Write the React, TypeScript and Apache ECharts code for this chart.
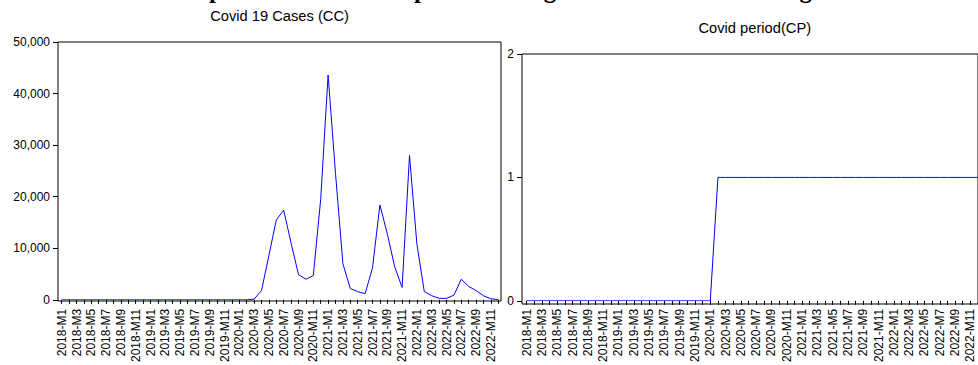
import React, { useEffect, useRef } from "react";
import * as echarts from "echarts";

const years = [2018, 2019, 2020, 2021, 2022];
const monthNums = [1, 2, 3, 4, 5, 6, 7, 8, 9, 10, 11, 12];
const categories: string[] = [];
years.forEach((y) => monthNums.forEach((m) => categories.push(`${y}-M${m}`)));

const covidCases = [
  0, 0, 0, 0, 0, 0, 0, 0, 0, 0, 0, 0,
  0, 0, 0, 0, 0, 0, 0, 0, 0, 0, 0, 0,
  0, 0, 140, 1800, 8600, 15500, 17400, 11000, 4900, 4000, 4700, 19500,
  43600, 24500, 7000, 2200, 1600, 1200, 6200, 18400, 12800, 6400, 2400, 28000,
  10800, 1600, 800, 300, 300, 900, 4000, 2600, 1800, 800, 200, 50,
];

const covidPeriod = [
  0, 0, 0, 0, 0, 0, 0, 0, 0, 0, 0, 0,
  0, 0, 0, 0, 0, 0, 0, 0, 0, 0, 0, 0,
  0, 1, 1, 1, 1, 1, 1, 1, 1, 1, 1, 1,
  1, 1, 1, 1, 1, 1, 1, 1, 1, 1, 1, 1,
  1, 1, 1, 1, 1, 1, 1, 1, 1, 1, 1, 1,
];

const leftTitle = "Covid 19 Cases (CC)";
const rightTitle = "Covid period(CP)";
const mainTitle = "Post Trend of the price trend of food prices during COVID-19 crisis in Nigeria";

const FONT = "'Liberation Sans', Arial, sans-serif";

export default function App() {
  const ref = useRef<HTMLDivElement>(null);
  useEffect(() => {
    if (!ref.current) return;
    const chart = echarts.init(ref.current, undefined, { renderer: "svg" });
    const frameGrid = (left: number, top: number, width: number, height: number) => ({
      left, top, width, height, show: true, borderColor: "#000", borderWidth: 1, backgroundColor: "transparent",
    });
    const hiddenX = (gi: number) => ({ type: "value", gridIndex: gi, show: false, min: 0, max: 1 });
    const hiddenY = (gi: number) => ({ type: "value", gridIndex: gi, show: false, min: 0, max: 1 });
    const catX = (gi: number, margin: number) => ({
      type: "category",
      gridIndex: gi,
      data: categories,
      boundaryGap: false,
      axisLine: { show: false },
      axisTick: { show: true, interval: 0, length: 4, lineStyle: { color: "#000", width: 1 } },
      axisLabel: { interval: 1, rotate: 90, fontSize: 12, color: "#000", margin, fontFamily: FONT },
      splitLine: { show: false },
    });
    const valY = (gi: number, max: number, interval: number, offset: number, fmt: (v: number) => string) => ({
      type: "value",
      gridIndex: gi,
      min: 0,
      max,
      interval,
      offset,
      axisLine: { show: false },
      axisTick: { show: true, length: 5, lineStyle: { color: "#000", width: 1 } },
      axisLabel: { fontSize: 12, color: "#000", margin: 8, fontFamily: FONT, formatter: fmt },
      splitLine: { show: false },
    });

    const option: any = {
      animation: false,
      backgroundColor: "#fff",
      grid: [
        frameGrid(58, 42, 443, 259),
        { left: 61.7, top: 42, width: 436.6, height: 259 },
        frameGrid(522, 54, 462, 250),
        { left: 526.7, top: 54, width: 454, height: 250 },
      ],
      xAxis: [hiddenX(0), catX(1, 9), hiddenX(2), catX(3, 8)],
      yAxis: [
        hiddenY(0),
        valY(1, 50000, 10000, 3.7, (v: number) => v.toLocaleString("en-US")),
        hiddenY(2),
        valY(3, 2, 1, 4.7, (v: number) => String(v)),
      ],
      series: [
        {
          type: "line",
          xAxisIndex: 1,
          yAxisIndex: 1,
          data: covidCases,
          showSymbol: false,
          symbol: "none",
          lineStyle: { color: "#0000ff", width: 1 },
        },
        {
          type: "line",
          xAxisIndex: 3,
          yAxisIndex: 3,
          data: covidPeriod,
          showSymbol: false,
          symbol: "none",
          lineStyle: { color: "#0000ff", width: 1 },
        },
      ],
      graphic: [
        {
          type: "text",
          x: 20,
          y: -11,
          style: {
            text: mainTitle,
            fill: "#000",
            font: "bold 25px 'Liberation Serif', 'Times New Roman', serif",
            align: "left",
            verticalAlign: "middle",
            textAlign: "left",
            textVerticalAlign: "middle",
          },
        },
        {
          type: "text",
          x: 279.5,
          y: 16,
          style: {
            text: leftTitle,
            fill: "#000",
            font: `14.7px ${FONT}`,
            align: "center",
            verticalAlign: "middle",
            textAlign: "center",
            textVerticalAlign: "middle",
          },
        },
        {
          type: "text",
          x: 754.8,
          y: 28,
          style: {
            text: rightTitle,
            fill: "#000",
            font: `14.7px ${FONT}`,
            align: "center",
            verticalAlign: "middle",
            textAlign: "center",
            textVerticalAlign: "middle",
          },
        },
      ],
    };
    chart.setOption(option);
    return () => chart.dispose();
  }, []);
  return (
    <div
      ref={ref}
      style={{ position: "fixed", left: 0, top: 0, width: 978, height: 365, background: "#fff" }}
    />
  );
}
